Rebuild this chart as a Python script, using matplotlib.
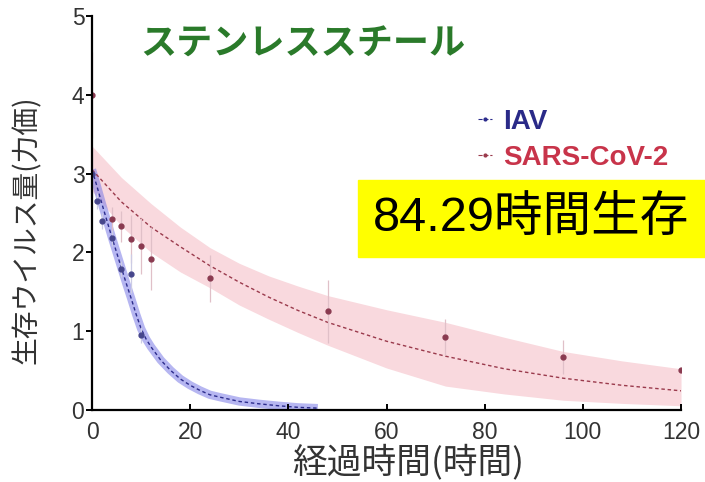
"""Virus survival on stainless steel: IAV vs SARS-CoV-2"""
import matplotlib
matplotlib.use('Agg')
import matplotlib.pyplot as plt
from matplotlib.lines import Line2D
from matplotlib.patches import Rectangle

plt.rcParams['font.family'] = ['Liberation Sans', 'Noto Sans CJK JP']
JP = ['Noto Sans CJK JP', 'Liberation Sans']

# measured titers (points with error bars)
iav_t = [0, 1, 2, 4, 6, 8, 10]
iav_y = [3.0, 2.65, 2.4, 2.18, 1.79, 1.73, 0.95]
iav_err = [0.3, 0.1, 0.1, 0.1, 0.1, 0.25, 0.1]

cov_t = [0, 4, 6, 8, 10, 12, 24, 48, 72, 96, 120]
cov_y = [4.0, 2.42, 2.33, 2.17, 2.08, 1.92, 1.67, 1.25, 0.92, 0.67, 0.50]
cov_err = [0.55, 0.15, 0.2, 0.3, 0.35, 0.4, 0.3, 0.4, 0.23, 0.22, 0.03]

# fitted curves
iav_fit_t = [0, 1, 2, 3, 4, 5, 6, 7, 8, 9, 10, 11, 12, 14, 16, 18, 20, 22, 24,
             26, 30, 34, 38, 42, 46]
iav_fit_y = [3.05, 2.84, 2.62, 2.41, 2.2, 2.0, 1.8, 1.6, 1.41, 1.21, 1.03,
             0.9, 0.8, 0.63, 0.5, 0.39, 0.31, 0.245, 0.19, 0.16, 0.105,
             0.075, 0.05, 0.03, 0.02]

cov_fit_t = [0, 6, 12, 18, 24, 30, 36, 42, 48, 60, 72, 84, 96, 108, 120]
cov_fit_y = [3.05, 2.64, 2.32, 2.07, 1.83, 1.62, 1.43, 1.26, 1.11, 0.87, 0.68,
             0.52, 0.40, 0.31, 0.24]
cov_hi = [3.35, 2.95, 2.62, 2.32, 2.06, 1.86, 1.70, 1.57, 1.45, 1.27, 1.11,
          0.92, 0.74, 0.62, 0.52]
cov_lo = [2.78, 2.33, 2.00, 1.75, 1.55, 1.33, 1.15, 0.98, 0.82, 0.53, 0.30,
          0.20, 0.12, 0.08, 0.05]

xticks = [0, 20, 40, 60, 80, 100, 120]
yticks = [0, 1, 2, 3, 4, 5]

fig = plt.figure(figsize=(7.05, 4.82), dpi=100)
ax = fig.add_axes([0.1305, 0.150, 0.8355, 0.8165])

# confidence bands
ax.fill_between(cov_fit_t, cov_lo, cov_hi, color='#f9d9de', lw=0, zorder=1)
ax.plot(iav_fit_t, iav_fit_y, color='#7a7ae6', lw=6, alpha=0.55,
        solid_capstyle='butt', zorder=1.2)

# fitted curves
ax.plot(cov_fit_t, cov_fit_y, color='#9a3a4c', lw=1.0, ls=(0, (2.5, 2)), zorder=1.5)
ax.plot(iav_fit_t, iav_fit_y, color='#2c2c8c', lw=1.0, ls=(0, (2.5, 2)), zorder=1.5)

# data
ax.errorbar(cov_t, cov_y, yerr=cov_err, fmt='o', ms=3.5, color='#8a3a50',
            ecolor='#e0c0c8', elinewidth=0.9, capsize=0, zorder=2)
ax.errorbar(iav_t, iav_y, yerr=iav_err, fmt='o', ms=3.5, color='#46468c',
            ecolor='#ccccE4', elinewidth=0.9, capsize=0, zorder=2)

ax.set_xlim(0, 120)
ax.set_ylim(0, 5)
ax.set_xticks(xticks)
ax.set_yticks(yticks)
for s in ['top', 'right']:
    ax.spines[s].set_visible(False)
for s in ['left', 'bottom']:
    ax.spines[s].set_linewidth(1.6)
    ax.spines[s].set_zorder(3)
ax.tick_params(axis='both', labelsize=16.5, labelcolor='#333333', width=1.4, length=4)
ax.tick_params(axis='x', direction='in', pad=8)
ax.tick_params(axis='y', direction='out', pad=1.5)

ax.set_xlabel('経過時間(時間)', family=JP, fontsize=25, color='#333333')
ax.xaxis.set_label_coords(0.537, -0.133)
ax.xaxis.label.set_va('center')
ax.set_ylabel('生存ウイルス量(力価)', family=JP, fontsize=20, color='#333333')
ax.yaxis.set_label_coords(-0.110, 0.456)
ax.yaxis.label.set_va('center')

# legend
handles = [Line2D([], [], color='#2c2c8c', lw=0.8, ls='--', marker='o', ms=2),
           Line2D([], [], color='#9a3a4c', lw=0.8, ls='--', marker='o', ms=2)]
leg = ax.legend(handles, ['IAV', 'SARS-CoV-2'], loc='upper left',
                bbox_to_anchor=(478 / 705, 1 - 109 / 482), bbox_transform=fig.transFigure,
                frameon=False, borderpad=0, borderaxespad=0, handlelength=0.5,
                handletextpad=0.4, labelspacing=0.36,
                prop={'size': 20, 'weight': 'bold'})
for txt, c in zip(leg.get_texts(), ['#2a2a88', '#c8344a']):
    txt.set_color(c)

# title
fig.text(140 / 705, 1 - 44 / 482, 'ステンレススチール', family=JP, fontsize=26,
         weight='bold', color='#2a7a2a', ha='left', va='center')

# yellow box
fig.patches.append(Rectangle((358 / 705, 1 - 257 / 482), 347 / 705, 77 / 482,
                             transform=fig.transFigure, color='#ffff00', zorder=5))
fig.text(531 / 705, 1 - 219 / 482, '84.29時間生存', fontsize=35, color='black',
         ha='center', va='center', zorder=6)

fig.savefig('out.png', dpi=100)
